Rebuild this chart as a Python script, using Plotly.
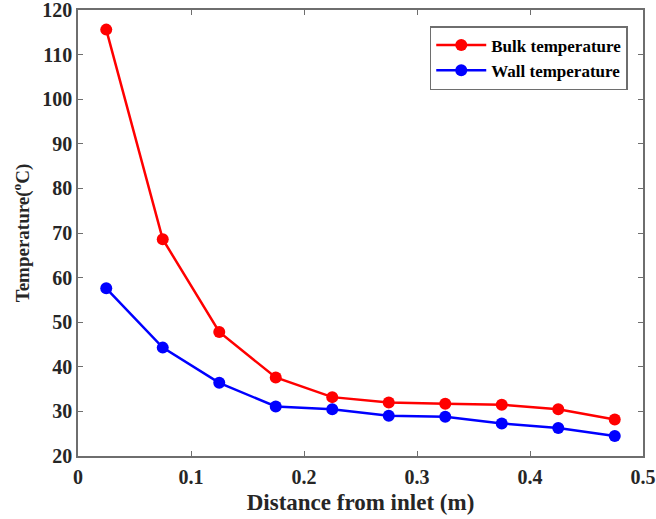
import plotly.graph_objects as go

distance = [0.025, 0.075, 0.125, 0.175, 0.225, 0.275, 0.325, 0.375, 0.425, 0.475]
bulk_temp = [115.6, 68.6, 47.8, 37.6, 33.2, 32.0, 31.7, 31.5, 30.5, 28.2]
wall_temp = [57.6, 44.3, 36.4, 31.1, 30.5, 29.0, 28.8, 27.3, 26.3, 24.5]
x_ticks = [0, 0.1, 0.2, 0.3, 0.4, 0.5]
x_tick_labels = ["0", "0.1", "0.2", "0.3", "0.4", "0.5"]
y_ticks = [20, 30, 40, 50, 60, 70, 80, 90, 100, 110, 120]

font_family = "Liberation Serif"

fig = go.Figure()
fig.add_trace(go.Scatter(x=distance, y=bulk_temp, mode="lines+markers",
                         name="<b>Bulk temperature</b>",
                         line=dict(color="#ff0000", width=2.5),
                         marker=dict(color="#ff0000", size=12, symbol="circle")))
fig.add_trace(go.Scatter(x=distance, y=wall_temp, mode="lines+markers",
                         name="<b>Wall temperature</b>",
                         line=dict(color="#0000ff", width=2.5),
                         marker=dict(color="#0000ff", size=12, symbol="circle")))

axis_common = dict(showline=True, linecolor="#6e6e6e", linewidth=1.5, mirror="ticks",
                   ticks="inside", ticklen=5, tickcolor="#6e6e6e", tickwidth=1,
                   showgrid=False, zeroline=False, automargin=False,
                   ticklabeloverflow="allow",
                   tickfont=dict(family=font_family, size=20, color="#262626"))

fig.update_layout(
    width=656, height=519,
    margin=dict(l=78, r=13, t=10, b=63),
    paper_bgcolor="white", plot_bgcolor="white",
    font=dict(family=font_family, color="#262626"),
    xaxis=dict(range=[0, 0.5], tickvals=x_ticks, ticktext=["<b>%s</b>" % t for t in x_tick_labels],
               title=dict(text="<b>Distance from inlet (m)</b>", font=dict(size=23, family=font_family),
                          standoff=7),
               ticklabelstandoff=2,
               **axis_common),
    yaxis=dict(range=[20, 120], tickvals=y_ticks, ticktext=["<b>%d</b>" % t for t in y_ticks],
               title=dict(text="<b>Temperature(<sup>o</sup>C)</b>", font=dict(size=19, family=font_family),
                          standoff=8),
               **axis_common),
    legend=dict(x=0.973, y=0.964, xanchor="right", yanchor="top",
                bgcolor="white", bordercolor="#6e6e6e", borderwidth=1.5,
                font=dict(family=font_family, size=17, color="#000000"),
                tracegroupgap=0, itemwidth=50),
    showlegend=True,
)

fig.write_html("out.html", config={"displayModeBar": False},
               post_script="document.body.style.margin='0';")
